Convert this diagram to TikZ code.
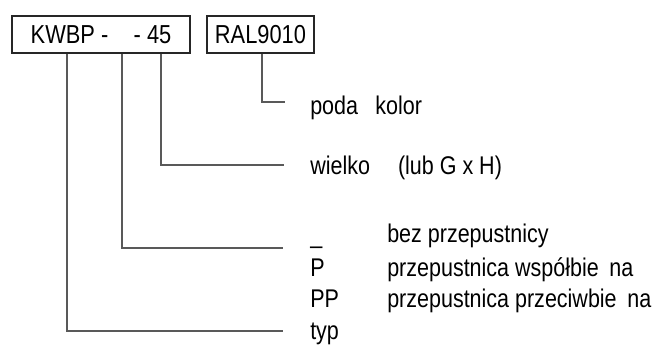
\documentclass[tikz,border=0pt]{standalone}
\usepackage{fontspec}
\setmainfont{Liberation Sans}[FakeStretch=0.84]
\usetikzlibrary{positioning}
\tikzset{box/.style={draw=black!85, line width=0.8pt, inner sep=0pt,
         minimum height=27.75pt, font=\fontsize{19.5}{23}\selectfont},
         lbl/.style={anchor=base west, inner sep=0pt,
         font=\fontsize{19.2}{23}\selectfont},
         conn/.style={draw=black!65, line width=0.8pt}}

\begin{document}
\begin{tikzpicture}[x=0.75pt,y=-0.75pt]
  \useasboundingbox (0,0) rectangle (658,345);

  \node[box, minimum width=133.5pt] (kwbp) at (101,34.5) {KWBP -\hspace{19pt}- 45};
  \node[box, minimum width=80.25pt] (ral) at (260.5,34.5) {RAL9010};

  \node[lbl] (kolor) at (310,115) {poda\hspace{13pt}kolor};
  \node[lbl] (wielk) at (310,175) {wielko\hspace{21pt}(lub G x H)};
  \node[lbl] (bez) at (310,244) {\_};
  \node[lbl] at (387,243) {bez przepustnicy};
  \node[lbl] (p) at (310,277) {P};
  \node[lbl] at (387,277) {przepustnica współbie\hspace{8pt}na};
  \node[lbl] (pp) at (310,308) {PP};
  \node[lbl] at (387,308) {przepustnica przeciwbie\hspace{8pt}na};
  \node[lbl] (typ) at (310,340) {typ};

  % ends of the leader lines
  \coordinate (e1) at (285,102);
  \coordinate (e2) at (284,165);
  \coordinate (e3) at (283,248);
  \coordinate (e4) at (283,331);

  \draw[conn] (ral.south -| 262,0) |- (e1);
  \draw[conn] (kwbp.south -| 161,0) |- (e2);
  \draw[conn] (kwbp.south -| 122,0) |- (e3);
  \draw[conn] (kwbp.south -| 67,0) |- (e4);
\end{tikzpicture}
\end{document}
